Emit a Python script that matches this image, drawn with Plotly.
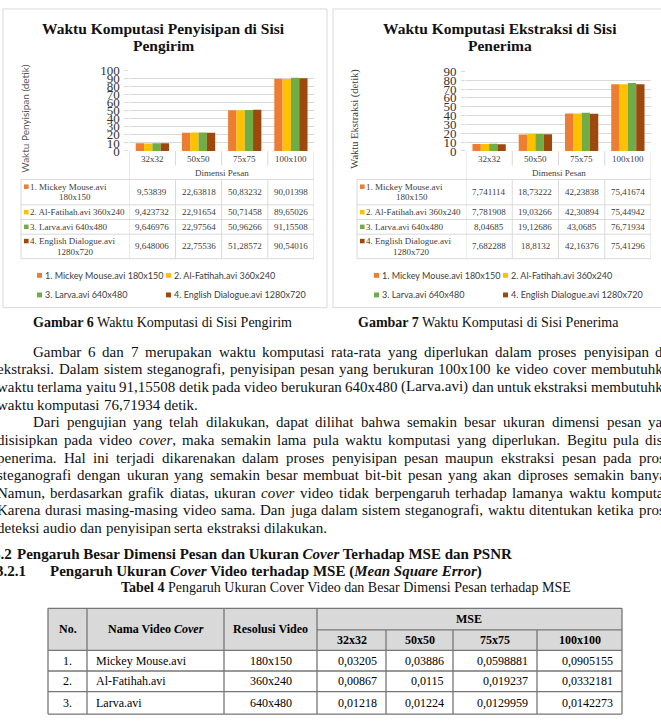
import plotly.graph_objects as go

W, H = 661, 727

# ---------------- data ----------------
dimensions = ["32x32", "50x50", "75x75", "100x100"]
video_labels = ["1. Mickey Mouse.avi 180x150", "2. Al-Fatihah.avi 360x240",
                "3. Larva.avi 640x480", "4. English Dialogue.avi 1280x720"]
embed_mickey = [9.53839, 22.63818, 50.83232, 90.01398]
embed_alfatihah = [9.423732, 22.91654, 50.71458, 89.65026]
embed_larva = [9.646976, 22.97564, 50.96266, 91.15508]
embed_english = [9.648006, 22.75536, 51.28572, 90.54016]
extract_mickey = [7.741114, 18.73222, 42.23838, 75.41674]
extract_alfatihah = [7.781908, 19.03266, 42.30894, 75.44942]
extract_larva = [8.04685, 19.12686, 43.0685, 76.71934]
extract_english = [7.682288, 18.8132, 42.16376, 75.41296]
series_colors = ["#ED7D31", "#FFC000", "#70AD47", "#9E480E"]
embed_ticks = list(range(0, 101, 10))
extract_ticks = list(range(0, 91, 10))

mse_no = ["1.", "2.", "3."]
mse_video = ["Mickey Mouse.avi", "Al-Fatihah.avi", "Larva.avi"]
mse_resolution = ["180x150", "360x240", "640x480"]
mse_32 = [0.03205, 0.00867, 0.01218]
mse_50 = [0.03886, 0.0115, 0.01224]
mse_75 = [0.0598881, 0.019237, 0.0129959]
mse_100 = [0.0905155, 0.0332181, 0.0142273]

body_lines = [
    ("Gambar 6 dan 7 merupakan waktu komputasi rata-rata yang diperlukan dalam proses penyisipan dan", True, True),
    ("ekstraksi. Dalam sistem steganografi, penyisipan pesan yang berukuran 100x100 ke video cover membutuhkan", False, True),
    ("waktu terlama yaitu 91,15508 detik pada video berukuran 640x480 (Larva.avi) dan untuk ekstraksi membutuhkan", False, True),
    ("waktu komputasi 76,71934 detik.", False, False),
    ("Dari pengujian yang telah dilakukan, dapat dilihat bahwa semakin besar ukuran dimensi pesan yang", True, True),
    ("disisipkan pada video *cover*, maka semakin lama pula waktu komputasi yang diperlukan. Begitu pula disisi", False, True),
    ("penerima. Hal ini terjadi dikarenakan dalam proses penyisipan pesan maupun ekstraksi pesan pada proses", False, True),
    ("steganografi dengan ukuran yang semakin besar membuat bit-bit pesan yang akan diproses semakin banyak.", False, True),
    ("Namun, berdasarkan grafik diatas, ukuran *cover* video tidak berpengaruh terhadap lamanya waktu komputasi.", False, True),
    ("Karena durasi masing-masing video sama. Dan juga dalam sistem steganografi, waktu ditentukan ketika proses", False, True),
    ("deteksi audio dan penyisipan serta ekstraksi dilakukan.", False, False),
]

# ---------------- helpers ----------------
def px(x):
    return x / W


def py(y):
    return 1 - y / H


TIMES = {' ': 250, '(': 333, ')': 333, ',': 250, '-': 333, '.': 250, ':': 278,
         'A': 722, 'B': 667, 'C': 667, 'D': 722, 'E': 611, 'F': 556, 'G': 722, 'H': 722,
         'I': 333, 'J': 389, 'K': 722, 'L': 611, 'M': 889, 'N': 722, 'O': 722, 'P': 556,
         'Q': 722, 'R': 667, 'S': 556, 'T': 611, 'U': 722, 'V': 722, 'W': 944, 'X': 722,
         'Y': 722, 'Z': 611,
         'a': 444, 'b': 500, 'c': 444, 'd': 500, 'e': 444, 'f': 333, 'g': 500, 'h': 500,
         'i': 278, 'j': 278, 'k': 500, 'l': 278, 'm': 778, 'n': 500, 'o': 500, 'p': 500,
         'q': 500, 'r': 333, 's': 389, 't': 278, 'u': 500, 'v': 500, 'w': 722, 'x': 500,
         'y': 500, 'z': 444}


def tw(s, size):
    return sum(TIMES.get(c, 500) for c in s) * size / 1000


def fmt(v):
    return repr(v).replace('.', ',')


SERIF = "Liberation Serif"
SANS = "Lato"
annotations = []
shapes = []


def text(x, y, t, size, family=SERIF, color="#000000", anchor="left",
         xref="paper", angle=0):
    annotations.append(dict(
        x=px(x) if xref == "paper" else x, y=py(y), xref=xref, yref="paper",
        text=t, showarrow=False, xanchor=anchor, yanchor="middle",
        textangle=angle, borderpad=0, borderwidth=0,
        font=dict(family=family, size=size, color=color)))


def line(x0, y0, x1, y1, color, width=1, xref="paper"):
    shapes.append(dict(
        type="line", xref=xref, yref="paper",
        x0=px(x0) if xref == "paper" else x0,
        x1=px(x1) if xref == "paper" else x1,
        y0=py(y0), y1=py(y1), line=dict(color=color, width=width)))


def rect(x0, y0, x1, y1, line_color=None, fill=None, width=1):
    shapes.append(dict(
        type="rect", xref="paper", yref="paper", x0=px(x0), x1=px(x1),
        y0=py(y1), y1=py(y0), fillcolor=fill if fill else "rgba(0,0,0,0)",
        line=dict(color=line_color if line_color else "rgba(0,0,0,0)",
                  width=width if line_color else 0), layer="below"))


fig = go.Figure()

charts = [
    dict(series=[embed_mickey, embed_alfatihah, embed_larva, embed_english],
         ticks=embed_ticks, xa="x", ya="y", xl=21, xlab=129.3, xr=314,
         ytop=65.0, box=(3, 2, 327, 307),
         title=["Waktu Komputasi Penyisipan di Sisi", "Pengirim"], tx=163,
         ytitle="Waktu Penyisipan (detik)", ytfont=(SANS, 10, "#595959"), ytx=25,
         legx=(37, 166)),
    dict(series=[extract_mickey, extract_alfatihah, extract_larva, extract_english],
         ticks=extract_ticks, xa="x2", ya="y2", xl=357, xlab=466, xr=651,
         ytop=65.7, box=(333, 2, 662, 307),
         title=["Waktu Komputasi Ekstraksi di Sisi", "Penerima"], tx=500,
         ytitle="Waktu Ekstraksi (detik)", ytfont=(SERIF, 10.5, "#404040"), ytx=355,
         legx=(374, 503)),
]

GRID = "#d9d9d9"
TBL = "#404040"
row_bounds = [176, 202, 217, 232, 257]
row_centers = [189, 209.5, 224.5, 244.5]
wrap_rows = [True, False, False, True]

layout_axes = {}
for ci, c in enumerate(charts):
    for si, vals in enumerate(c["series"]):
        fig.add_trace(go.Bar(x=dimensions, y=vals, name=video_labels[si],
                             marker=dict(color=series_colors[si], line=dict(width=0)),
                             xaxis=c["xa"], yaxis=c["ya"], showlegend=False))
    axn = "" if ci == 0 else "2"
    layout_axes["xaxis" + axn] = dict(
        domain=[px(c["xlab"]), px(c["xr"])], type="category", range=[-0.5, 3.5],
        showticklabels=False, showgrid=False, zeroline=False, showline=False,
        anchor=c["ya"])
    layout_axes["yaxis" + axn] = dict(
        domain=[py(147), py(c["ytop"])], range=[0, c["ticks"][-1]],
        tickvals=c["ticks"], showgrid=True, gridcolor=GRID, gridwidth=1,
        zeroline=False, showline=False, ticks="outside", ticklen=4, tickcolor=GRID,
        ticklabelstandoff=2, anchor=c["xa"],
        tickfont=dict(family=SERIF, size=13, color="#333333"))

    # box
    x0, y0, x1, y1 = c["box"]
    rect(x0, y0, x1, y1, line_color=GRID)
    # titles
    text(c["tx"], 21.5, "<b>%s</b>" % c["title"][0], 15.5, color="#111111", anchor="center")
    text(c["tx"], 39, "<b>%s</b>" % c["title"][1], 15.5, color="#111111", anchor="center")
    # y title
    f = c["ytfont"]
    text(c["ytx"], 114, c["ytitle"], f[1], family=f[0], color=f[2], anchor="center", angle=-90)

    xa = c["xa"]
    # category row
    for d in dimensions:
        text(d, 155, d, 9, color=TBL, anchor="center", xref=xa)
    text((c["xlab"] + c["xr"]) / 2, 169, "Dimensi Pesan", 9, color=TBL, anchor="center")
    # vertical lines of the data table
    line(-0.5, 147, -0.5, 257, GRID, xref=xa)
    line(3.5, 147, 3.5, 257, GRID, xref=xa)
    for k in range(1, 4):
        line(k - 0.5, 147, k - 0.5, 162, GRID, xref=xa)
        line(k - 0.5, 176, k - 0.5, 257, GRID, xref=xa)
    line(c["xl"], 176, c["xl"], 257, GRID)
    for yb in row_bounds:
        line(c["xl"], yb, c["xr"], yb, GRID)
    # rows
    for si, vals in enumerate(c["series"]):
        yc = row_centers[si]
        lab = video_labels[si]
        if wrap_rows[si]:
            first, second = lab.rsplit(" ", 1)
            y1l = yc - 5.5
            text((c["xl"] + c["xlab"]) / 2, yc + 5.5, second, 9, color=TBL, anchor="center")
        else:
            first = lab
            y1l = yc
        kx = c["xl"] + 3
        rect(kx, y1l - 2.3, kx + 4.6, y1l + 2.3, fill=series_colors[si])
        text(kx + 6, y1l, first, 9, color=TBL)
        for d, v in zip(dimensions, vals):
            text(d, yc, fmt(v), 9, color=TBL, anchor="center", xref=xa)
    # legend
    for si, lab in enumerate(video_labels):
        lx = c["legx"][si % 2]
        ly = 274 if si < 2 else 294
        rect(lx, ly - 2.5, lx + 5, ly + 2.5, fill=series_colors[si])
        text(lx + 7.5, ly, lab, 9, family=SANS, color=TBL)

# ---------------- captions ----------------
text(162, 322, "<b>Gambar 6</b> Waktu Komputasi di Sisi Pengirim", 14, color="#111111", anchor="center")
text(488, 322, "<b>Gambar 7</b> Waktu Komputasi di Sisi Penerima", 14, color="#111111", anchor="center")

# ---------------- body text (justified) ----------------
BODY = 15
L_MARGIN, R_MARGIN, INDENT = -3, 677, 33
for li, (ln, indent, justify) in enumerate(body_lines):
    y = 352 + li * 18
    x0 = INDENT if indent else L_MARGIN
    words = ln.split(" ")
    plain = [w.replace("*", "") for w in words]
    widths = [tw(w, BODY) for w in plain]
    space = tw(" ", BODY)
    gap = space
    if justify and len(words) > 1:
        gap = max((R_MARGIN - x0 - sum(widths)) / (len(words) - 1), space * 0.55)
    x = x0
    for w, pw, ww in zip(words, plain, widths):
        t = w.replace("*", "<i>", 1).replace("*", "</i>", 1)
        text(x, y, t, BODY, color="#111111")
        x += ww + gap

# ---------------- headings ----------------
text(-7, 559, "<b>3.2</b>", BODY, color="#111111")
text(17, 559, "<b>Pengaruh Besar Dimensi Pesan dan Ukuran <i>Cover</i> Terhadap MSE dan PSNR</b>",
     BODY, color="#111111")
text(-4, 576, "<b>3.2.1</b>", BODY, color="#111111")
text(50, 576, "<b>Pengaruh Ukuran <i>Cover</i> Video terhadap MSE (<i>Mean Square Error</i>)</b>",
     BODY, color="#111111")
text(346, 593, "<b>Tabel 4</b> Pengaruh Ukuran Cover Video dan Besar Dimensi Pesan terhadap MSE",
     14, color="#111111", anchor="center")

# ---------------- MSE table ----------------
cols = [48, 87, 224, 317, 386, 453, 537, 622]
BORDER = "#767676"
rect(48, 614, 622, 657, fill="#d9d9d9")
for yb in [614, 657, 678, 699, 722]:
    line(48, yb, 622, yb, BORDER, 1.3)
line(317, 636, 622, 636, BORDER, 1.3)
for xb in [48, 87, 224, 317, 622]:
    line(xb, 614, xb, 722, BORDER, 1.3)
for xb in [386, 453, 537]:
    line(xb, 636, xb, 722, BORDER, 1.3)

text(67.5, 635.5, "<b>No.</b>", 12, anchor="center")
text(155.5, 635.5, "<b>Nama Video <i>Cover</i></b>", 12, anchor="center")
text(270.5, 635.5, "<b>Resolusi Video</b>", 12, anchor="center")
text(469.5, 625, "<b>MSE</b>", 12, anchor="center")
for k, d in enumerate(dimensions):
    text((cols[3 + k] + cols[4 + k]) / 2, 646.5, "<b>%s</b>" % d, 12, anchor="center")
mse_rows_y = [667.5, 688.5, 710.5]
for r in range(3):
    yc = mse_rows_y[r]
    text(67.5, yc, mse_no[r], 12, anchor="center")
    text(96, yc, mse_video[r], 12)
    text(270.5, yc, mse_resolution[r], 12, anchor="center")
    for k, arr in enumerate([mse_32, mse_50, mse_75, mse_100]):
        text(cols[4 + k] - 9, yc, fmt(arr[r]), 12, anchor="right")

fig.update_layout(
    width=W, height=H, margin=dict(l=0, r=0, t=0, b=0),
    paper_bgcolor="white", plot_bgcolor="white",
    barmode="group", bargap=0.28, bargroupgap=0,
    showlegend=False, annotations=annotations, shapes=shapes,
    **layout_axes)

fig.write_html("out.html", config={"displayModeBar": False},
               post_script="document.body.style.margin='0';document.body.style.overflow='hidden';")
